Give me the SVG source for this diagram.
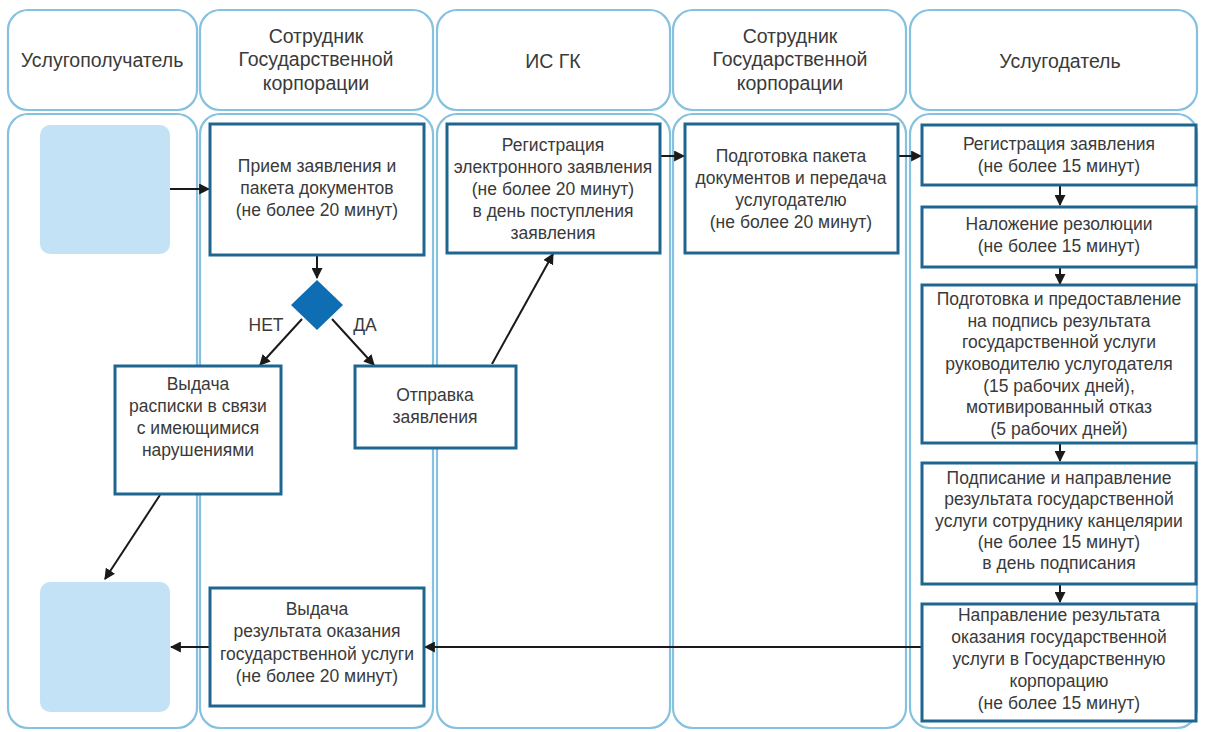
<svg xmlns="http://www.w3.org/2000/svg" width="1205" height="732" viewBox="0 0 1205 732">
<defs>
<style>
.lane{fill:#fff;stroke:#86c1e0;stroke-width:2.2}
.box{fill:#fff;stroke:#1e6690;stroke-width:3}
.term{fill:#c4e2f5}
.t{font-family:'Liberation Sans',Arial,sans-serif;font-size:17.5px;fill:#3a3a3a;text-anchor:middle}
.h{font-family:'Liberation Sans',Arial,sans-serif;font-size:19.5px;fill:#3a3a3a;text-anchor:middle}
.c{stroke:#1a1a1a;stroke-width:2;fill:none;marker-end:url(#ah)}
</style>
<marker id="ah" viewBox="0 0 10 10" refX="9" refY="5" markerWidth="5.5" markerHeight="5.5" orient="auto" markerUnits="strokeWidth">
<path d="M0,0 L10,5 L0,10 z" fill="#1a1a1a"/>
</marker>
</defs>
<rect width="1205" height="732" fill="#fff"/>
<g id="lanes">
<rect class="lane" x="8" y="10" width="189" height="100" rx="20"/>
<rect class="lane" x="200" y="10" width="233" height="100" rx="20"/>
<rect class="lane" x="437" y="10" width="233" height="100" rx="20"/>
<rect class="lane" x="673" y="10" width="233" height="100" rx="20"/>
<rect class="lane" x="910" y="10" width="287" height="100" rx="20"/>
<rect class="lane" x="8" y="114" width="189" height="614" rx="20"/>
<rect class="lane" x="200" y="114" width="233" height="614" rx="20"/>
<rect class="lane" x="437" y="114" width="233" height="614" rx="20"/>
<rect class="lane" x="673" y="114" width="233" height="614" rx="20"/>
<rect class="lane" x="910" y="114" width="287" height="614" rx="20"/>
<text class="h" x="102" y="67">Услугополучатель</text>
<text class="h" x="316" y="43">Сотрудник</text>
<text class="h" x="316" y="66">Государственной</text>
<text class="h" x="316" y="90">корпорации</text>
<text class="h" x="553" y="68">ИС ГК</text>
<text class="h" x="790" y="43">Сотрудник</text>
<text class="h" x="790" y="66">Государственной</text>
<text class="h" x="790" y="90">корпорации</text>
<text class="h" x="1060" y="68">Услугодатель</text>
</g>
<g id="connectors">
<line class="c" x1="170" y1="189" x2="209" y2="189"/>
<line class="c" x1="317" y1="256" x2="317" y2="278"/>
<line class="c" x1="302" y1="319" x2="260" y2="365"/>
<line class="c" x1="332" y1="319" x2="374" y2="365"/>
<line class="c" x1="492" y1="364" x2="553" y2="254"/>
<line class="c" x1="660" y1="156" x2="684" y2="156"/>
<line class="c" x1="898" y1="156" x2="921" y2="156"/>
<line class="c" x1="1060" y1="186" x2="1060" y2="205"/>
<line class="c" x1="1060" y1="268" x2="1060" y2="284"/>
<line class="c" x1="1060" y1="444" x2="1060" y2="461"/>
<line class="c" x1="1060" y1="585" x2="1060" y2="602"/>
<line class="c" x1="921" y1="647" x2="425" y2="647"/>
<line class="c" x1="210" y1="647" x2="171" y2="647"/>
<line class="c" x1="160" y1="495" x2="105" y2="579"/>
</g>
<g id="start"><rect class="term" x="40" y="125" width="130" height="129" rx="10"/></g>
<g id="end"><rect class="term" x="40" y="582" width="130" height="130" rx="10"/></g>
<g id="n1">
<rect class="box" x="210" y="124" width="214" height="131"/>
<text class="t" x="317" y="172">Прием заявления и</text>
<text class="t" x="317" y="194">пакета документов</text>
<text class="t" x="317" y="216">(не более 20 минут)</text>
</g>
<g id="decision">
<polygon points="317,280 343,305 317,330 291,305" fill="#0e6db3"/>
<text class="t" x="266" y="331">НЕТ</text>
<text class="t" x="365" y="331">ДА</text>
</g>
<g id="n2">
<rect class="box" x="115" y="366" width="166" height="128"/>
<text class="t" x="198" y="390">Выдача</text>
<text class="t" x="198" y="412">расписки в связи</text>
<text class="t" x="198" y="434">с имеющимися</text>
<text class="t" x="198" y="456">нарушениями</text>
</g>
<g id="n3">
<rect class="box" x="355" y="366" width="161" height="82"/>
<text class="t" x="435" y="401">Отправка</text>
<text class="t" x="435" y="423">заявления</text>
</g>
<g id="n4">
<rect class="box" x="447" y="124" width="213" height="129"/>
<text class="t" x="553" y="151">Регистрация</text>
<text class="t" x="553" y="173">электронного заявления</text>
<text class="t" x="553" y="195">(не более 20 минут)</text>
<text class="t" x="553" y="217">в день поступления</text>
<text class="t" x="553" y="239">заявления</text>
</g>
<g id="n5">
<rect class="box" x="685" y="124" width="213" height="129"/>
<text class="t" x="791" y="162">Подготовка пакета</text>
<text class="t" x="791" y="184">документов и передача</text>
<text class="t" x="791" y="206">услугодателю</text>
<text class="t" x="791" y="228">(не более 20 минут)</text>
</g>
<g id="r1">
<rect class="box" x="922" y="125" width="274" height="60"/>
<text class="t" x="1059" y="150">Регистрация заявления</text>
<text class="t" x="1059" y="172">(не более 15 минут)</text>
</g>
<g id="r2">
<rect class="box" x="922" y="207" width="274" height="60"/>
<text class="t" x="1059" y="230">Наложение резолюции</text>
<text class="t" x="1059" y="252">(не более 15 минут)</text>
</g>
<g id="r3">
<rect class="box" x="922" y="285" width="274" height="158"/>
<text class="t" x="1059" y="305">Подготовка и предоставление</text>
<text class="t" x="1059" y="327">на подпись результата</text>
<text class="t" x="1059" y="348">государственной услуги</text>
<text class="t" x="1059" y="370">руководителю услугодателя</text>
<text class="t" x="1059" y="392">(15 рабочих дней),</text>
<text class="t" x="1059" y="413">мотивированный отказ</text>
<text class="t" x="1059" y="435">(5 рабочих дней)</text>
</g>
<g id="r4">
<rect class="box" x="922" y="463" width="274" height="121"/>
<text class="t" x="1059" y="484">Подписание и направление</text>
<text class="t" x="1059" y="505">результата государственной</text>
<text class="t" x="1059" y="527">услуги сотруднику канцелярии</text>
<text class="t" x="1059" y="548">(не более 15 минут)</text>
<text class="t" x="1059" y="569">в день подписания</text>
</g>
<g id="r5">
<rect class="box" x="922" y="604" width="274" height="117"/>
<text class="t" x="1059" y="621">Направление результата</text>
<text class="t" x="1059" y="643">оказания государственной</text>
<text class="t" x="1059" y="665">услуги в Государственную</text>
<text class="t" x="1059" y="687">корпорацию</text>
<text class="t" x="1059" y="709">(не более 15 минут)</text>
</g>
<g id="n6">
<rect class="box" x="210" y="588" width="214" height="118"/>
<text class="t" x="317" y="615">Выдача</text>
<text class="t" x="317" y="637">результата оказания</text>
<text class="t" x="317" y="660">государственной услуги</text>
<text class="t" x="317" y="682">(не более 20 минут)</text>
</g>
</svg>
